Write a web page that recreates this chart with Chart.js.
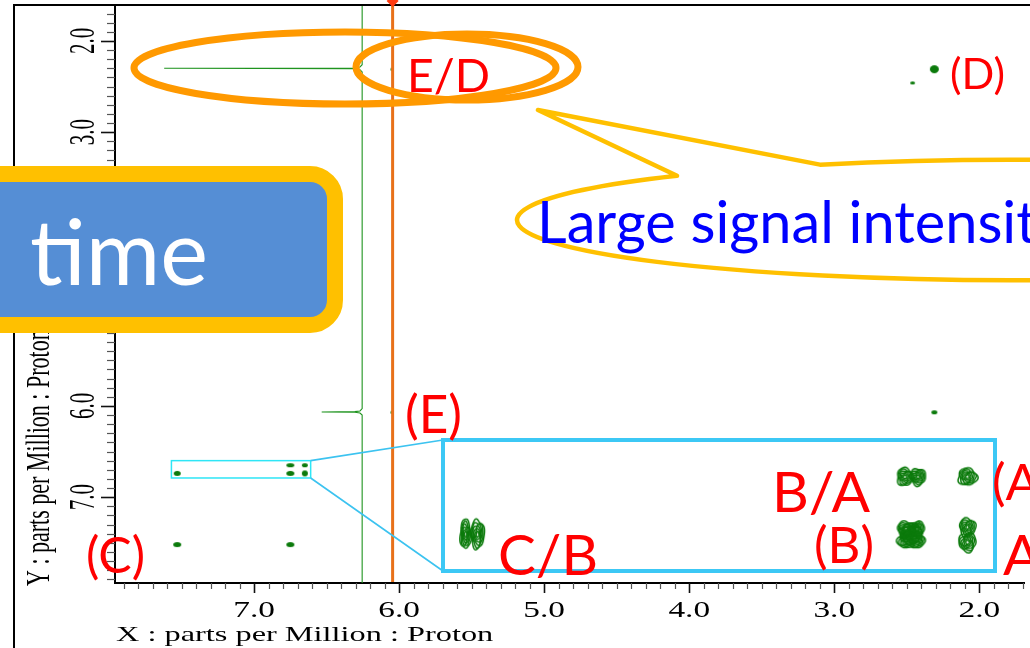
<!DOCTYPE html>
<html>
<head>
<meta charset="utf-8">
<script src="https://cdn.jsdelivr.net/npm/chart.js@4.4.1/dist/chart.umd.min.js"></script>
<style>
  html, body { margin: 0; padding: 0; background: #fff; overflow: hidden; }
  #wrap { position: relative; width: 1030px; height: 648px; }
  #main { position: absolute; left: 0; top: 0; }
  #inset { position: absolute; left: 443px; top: 440px; }
</style>
</head>
<body>
<div id="wrap">
  <canvas id="main" width="1030" height="648"></canvas>
  <canvas id="inset" width="552" height="131"></canvas>
</div>
<script>
// ---------------- spectrum data (ppm) ----------------
const xTickValues = [7.0, 6.0, 5.0, 4.0, 3.0, 2.0];
const xTickLabels = ['7.0', '6.0', '5.0', '4.0', '3.0', '2.0'];
const yTickValues = [2.0, 3.0, 4.0, 5.0, 6.0, 7.0];
const yTickLabels = ['2.0', '3.0', '4.0', '5.0', '6.0', '7.0'];

// visible window of the 2D map
const xWindow = [1.692, 7.959];
const yWindow = [1.617, 7.941];

// cross / diagonal peaks (X = direct proton, Y = indirect proton)
const peakX = [7.53, 6.75, 6.75, 6.65, 6.65, 7.53, 6.75, 6.05, 6.05, 2.31, 2.46, 2.31];
const peakY = [6.74, 6.65, 6.74, 6.65, 6.74, 7.52, 7.52, 2.31, 6.07, 2.31, 2.46, 6.07];

// 1D projection trace along Y (x position of the trace for each ppm)
const projectionPpm = [1.617, 2.260, 2.285, 2.296, 2.300, 2.304, 2.315, 2.340, 6.030, 6.055, 6.063, 6.066, 6.069, 6.078, 6.100, 7.941];
const projectionPos = [6.255, 6.255, 6.270, 6.315, 7.620, 6.315, 6.270, 6.255, 6.255, 6.270, 6.305, 6.534, 6.305, 6.270, 6.255, 6.255];

// cursor position
const cursorPpm = 6.045;

// zoomed region shown in the inset
const zoomX = [6.61, 7.57];
const zoomY = [6.60, 6.79];

// ---------------- peak glyphs ----------------
const GREEN = '#0b7a0b';

function solidBlob(w, h) {
  const c = document.createElement('canvas');
  c.width = Math.ceil(w) + 2; c.height = Math.ceil(h) + 2;
  const g = c.getContext('2d');
  g.fillStyle = GREEN;
  g.beginPath();
  g.ellipse(c.width / 2, c.height / 2, w / 2, h / 2, 0, 0, Math.PI * 2);
  g.fill();
  return c;
}

// a stack of wobbly contour levels for each lobe
function contourBlob(lobes, seed) {
  let maxX = 0, maxY = 0;
  lobes.forEach(([dx, dy, rx, ry]) => {
    maxX = Math.max(maxX, Math.abs(dx) + rx);
    maxY = Math.max(maxY, Math.abs(dy) + ry);
  });
  const c = document.createElement('canvas');
  c.width = Math.ceil(maxX * 2) + 8; c.height = Math.ceil(maxY * 2) + 8;
  const g = c.getContext('2d');
  const cx = c.width / 2, cy = c.height / 2;
  g.strokeStyle = GREEN;
  g.lineWidth = 1.5;
  g.lineJoin = 'round';
  lobes.forEach(([dx, dy, rx, ry], k) => {
    [1, 0.84, 0.68, 0.52, 0.36, 0.2].forEach((s, j) => {
      g.beginPath();
      const ph = seed + k * 1.7 + j * 0.9;
      for (let t = 0; t <= 48; t++) {
        const a = t / 48 * Math.PI * 2;
        const r = 1 + 0.09 * Math.sin(3 * a + ph) + 0.06 * Math.sin(5 * a + 2 * ph);
        const px = cx + dx + Math.cos(a) * rx * s * r;
        const py = cy + dy + Math.sin(a) * ry * s * r;
        if (t === 0) g.moveTo(px, py); else g.lineTo(px, py);
      }
      g.closePath();
      g.stroke();
    });
  });
  return c;
}

const mainLooks = [
  solidBlob(7, 5), solidBlob(8, 4), solidBlob(8, 5), solidBlob(6, 4), solidBlob(6, 6),
  solidBlob(8, 5), solidBlob(8, 5), solidBlob(3, 3), solidBlob(3, 3),
  solidBlob(9, 8), solidBlob(5, 3), solidBlob(6, 4)
];

const insetLooks = {
  0: contourBlob([[-5, 0, 5.5, 14.5], [7, 0, 6.5, 14.5]], 0.3),
  1: contourBlob([[-6, 0, 8, 9], [7, 0, 7.5, 8.5]], 1.1),
  2: contourBlob([[-5, -5, 8.5, 8], [6, -5, 7.5, 8], [-5, 6, 8.5, 8], [6, 6, 7.5, 8], [0, 0, 10, 10]], 2.2),
  3: contourBlob([[0, 0, 9.5, 8.5]], 0.7),
  4: contourBlob([[0, -7, 8, 9], [0, 8, 8.5, 9.5]], 1.9)
};

// ---------------- text helpers ----------------
const SERIF = '"Liberation Serif", "Times New Roman", serif';
const SANS = 'Lato, "Open Sans", sans-serif';

function fitSize(ctx, text, width, family, weight) {
  ctx.font = `${weight} 100px ${family}`;
  return 100 * width / ctx.measureText(text).width;
}

function drawFitted(ctx, spec) {
  const size = fitSize(ctx, spec.fit || spec.t, spec.w, SANS, 'normal');
  ctx.font = `normal ${size}px ${SANS}`;
  ctx.fillStyle = spec.color || '#ff0000';
  ctx.textAlign = 'left';
  ctx.textBaseline = 'alphabetic';
  ctx.fillText(spec.t, spec.x, spec.y);
}

const labels = [
  { t: 'E/D', x: 407, y: 92, w: 83 },
  { t: '(D)', x: 950, y: 89, w: 55 },
  { t: '(E)', x: 405, y: 433, w: 57 },
  { t: '(C)', x: 86, y: 573, w: 59 },
  { t: 'C/B', x: 498, y: 575, w: 100 },
  { t: 'B/A', x: 772, y: 512, w: 98 },
  { t: '(B)', x: 814, y: 563, w: 60 },
  { t: '(A)', x: 992, y: 500, fit: '(B)', w: 60 },
  { t: 'A', x: 1003, y: 575, fit: 'C/B', w: 100 }
];

// ---------------- drawing of frame, axes and callouts ----------------
const axesPlugin = {
  id: 'nmrAxes',
  beforeDatasetsDraw(chart) {
    const ctx = chart.ctx;
    const xs = chart.scales.x, ys = chart.scales.y;
    const area = chart.chartArea;
    ctx.save();
    // outer frame
    ctx.strokeStyle = '#000';
    ctx.lineWidth = 2;
    ctx.beginPath();
    ctx.moveTo(14, 649); ctx.lineTo(14, 5); ctx.lineTo(1031, 5);
    ctx.stroke();
    // axis lines
    ctx.beginPath();
    ctx.moveTo(area.left, area.top); ctx.lineTo(area.left, area.bottom); ctx.lineTo(area.right + 1, area.bottom);
    ctx.stroke();

    // x ticks every 0.1 ppm
    for (let i = 17; i <= 79; i++) {
      const v = i / 10;
      const px = Math.round(xs.getPixelForValue(v)) + 0.5;
      const major = i % 10 === 0;
      ctx.strokeStyle = major ? '#111' : '#555';
      ctx.lineWidth = major ? 1.6 : 1.2;
      ctx.beginPath();
      ctx.moveTo(px, area.bottom);
      ctx.lineTo(px, area.bottom + (major ? 10 : 6));
      ctx.stroke();
    }
    // y ticks every 0.1 ppm
    for (let i = 17; i <= 79; i++) {
      const v = i / 10;
      const py = Math.round(ys.getPixelForValue(v)) + 0.5;
      const major = i % 10 === 0;
      ctx.strokeStyle = major ? '#111' : '#555';
      ctx.lineWidth = major ? 1.6 : 1.2;
      ctx.beginPath();
      ctx.moveTo(area.left, py);
      ctx.lineTo(area.left - (major ? 14 : 8), py);
      ctx.stroke();
    }

    ctx.fillStyle = '#000';
    // x tick labels
    ctx.font = `23px ${SERIF}`;
    ctx.textAlign = 'center';
    ctx.textBaseline = 'alphabetic';
    xTickValues.forEach((v, i) => {
      ctx.save();
      ctx.translate(xs.getPixelForValue(v), 617);
      ctx.scale(1.45, 1);
      ctx.fillText(xTickLabels[i], 0, 0);
      ctx.restore();
    });
    // y tick labels (rotated)
    ctx.font = `21px ${SERIF}`;
    ctx.textBaseline = 'middle';
    yTickValues.forEach((v, i) => {
      ctx.save();
      ctx.translate(85, ys.getPixelForValue(v));
      ctx.rotate(-Math.PI / 2);
      ctx.scale(1, 1.7);
      ctx.fillText(yTickLabels[i], 0, 0);
      ctx.restore();
    });
    // axis titles
    ctx.font = `22px ${SERIF}`;
    ctx.textAlign = 'left';
    ctx.textBaseline = 'alphabetic';
    ctx.save();
    ctx.translate(116, 641);
    ctx.scale(1.47, 1);
    ctx.fillText('X : parts per Million : Proton', 0, 0);
    ctx.restore();
    ctx.save();
    ctx.translate(40, 586);
    ctx.rotate(-Math.PI / 2);
    ctx.scale(1, 1.5);
    ctx.textBaseline = 'middle';
    ctx.fillText('Y : parts per Million : Proton', 0, 0);
    ctx.restore();
    ctx.restore();
  },
  afterDatasetsDraw(chart) {
    const ctx = chart.ctx;
    const xs = chart.scales.x, ys = chart.scales.y;
    ctx.save();
    // zoom window on the map
    const zl = xs.getPixelForValue(zoomX[1]), zr = xs.getPixelForValue(zoomX[0]);
    const zt = ys.getPixelForValue(zoomY[0]), zb = ys.getPixelForValue(zoomY[1]);
    ctx.strokeStyle = '#2ee6f6';
    ctx.lineWidth = 1.5;
    ctx.strokeRect(zl, zt, zr - zl, zb - zt);
    // connectors to the enlarged view
    ctx.strokeStyle = '#3cc3f0';
    ctx.lineWidth = 1.6;
    ctx.beginPath();
    ctx.moveTo(zr, zt); ctx.lineTo(443, 440);
    ctx.moveTo(zr, zb); ctx.lineTo(443, 571);
    ctx.stroke();
    // enlarged view frame
    ctx.strokeStyle = '#3cc8f5';
    ctx.lineWidth = 4;
    ctx.strokeRect(443, 440, 552, 131);

    // highlight rings around the E/D region
    ctx.strokeStyle = '#ff9900';
    ctx.lineWidth = 7;
    ctx.beginPath();
    ctx.ellipse(345, 68, 211, 36, 0, 0, Math.PI * 2);
    ctx.stroke();
    ctx.beginPath();
    ctx.ellipse(467, 67, 111, 33, 0, 0, Math.PI * 2);
    ctx.stroke();

    // speech bubble
    const cx = 1010, cy = 220, rx = 493, ry = 60;
    const a0 = -Math.acos((820 - cx) / rx);             // right tail base
    const a1 = 2 * Math.PI - Math.acos((677 - cx) / rx); // left tail base
    ctx.beginPath();
    ctx.ellipse(cx, cy, rx, ry, 0, a0, a1, false);
    ctx.lineTo(538, 110);
    ctx.closePath();
    ctx.fillStyle = '#fff';
    ctx.fill();
    ctx.strokeStyle = '#ffc000';
    ctx.lineWidth = 4.5;
    ctx.lineJoin = 'round';
    ctx.stroke();

    drawFitted(ctx, { t: 'Large signal intensity', fit: 'Large signal intensit', x: 537, y: 243, w: 500, color: '#0000ff' });

    // peak labels
    labels.forEach(s => drawFitted(ctx, s));

    // "time" badge
    ctx.beginPath();
    ctx.roundRect(-30, 174, 365, 151, 25);
    ctx.fillStyle = '#558ed5';
    ctx.fill();
    ctx.strokeStyle = '#ffc000';
    ctx.lineWidth = 16;
    ctx.stroke();
    drawFitted(ctx, { t: 'time', x: 30, y: 285, w: 178, color: '#ffffff' });
    ctx.restore();
  }
};

// ---------------- main 2D map ----------------
const peakPoints = peakX.map((x, i) => ({ x, y: peakY[i] }));
const projectionPoints = projectionPpm.map((y, i) => ({ x: projectionPos[i], y }));
const cursorPoints = [{ x: cursorPpm, y: 1.562 }, { x: cursorPpm, y: 7.93 }];

new Chart(document.getElementById('main'), {
  type: 'scatter',
  data: {
    datasets: [
      {
        type: 'line',
        data: projectionPoints,
        borderColor: '#1f941f',
        borderWidth: 1.1,
        pointRadius: 0,
        tension: 0
      },
      {
        type: 'line',
        data: cursorPoints,
        borderColor: '#e8711a',
        borderWidth: 3,
        pointRadius: [6, 0],
        pointStyle: 'rectRot',
        pointBackgroundColor: '#ff3b10',
        pointBorderWidth: 0,
        clip: false
      },
      {
        data: peakPoints,
        pointStyle: mainLooks,
        pointRadius: 3
      }
    ]
  },
  options: {
    responsive: false,
    devicePixelRatio: 1,
    animation: false,
    events: [],
    layout: { padding: { left: 115, right: 0, top: 5, bottom: 65 } },
    plugins: { legend: { display: false }, tooltip: { enabled: false } },
    scales: {
      x: { type: 'linear', reverse: true, min: xWindow[0], max: xWindow[1], display: false },
      y: { type: 'linear', reverse: true, min: yWindow[0], max: yWindow[1], display: false }
    }
  },
  plugins: [axesPlugin]
});

// ---------------- enlarged view of the zoom window ----------------
const insetPoints = [];
const insetStyles = [];
peakX.forEach((x, i) => {
  const y = peakY[i];
  if (x >= zoomX[0] && x <= zoomX[1] && y >= zoomY[0] && y <= zoomY[1]) {
    insetPoints.push({ x, y });
    insetStyles.push(insetLooks[i]);
  }
});

new Chart(document.getElementById('inset'), {
  type: 'scatter',
  data: { datasets: [{ data: insetPoints, pointStyle: insetStyles, pointRadius: 3 }] },
  options: {
    responsive: false,
    devicePixelRatio: 1,
    animation: false,
    events: [],
    layout: { padding: 0 },
    plugins: { legend: { display: false }, tooltip: { enabled: false } },
    scales: {
      x: { type: 'linear', reverse: true, min: zoomX[0], max: zoomX[1], display: false },
      y: { type: 'linear', reverse: true, min: zoomY[0], max: zoomY[1], display: false }
    }
  }
});
</script>
</body>
</html>
